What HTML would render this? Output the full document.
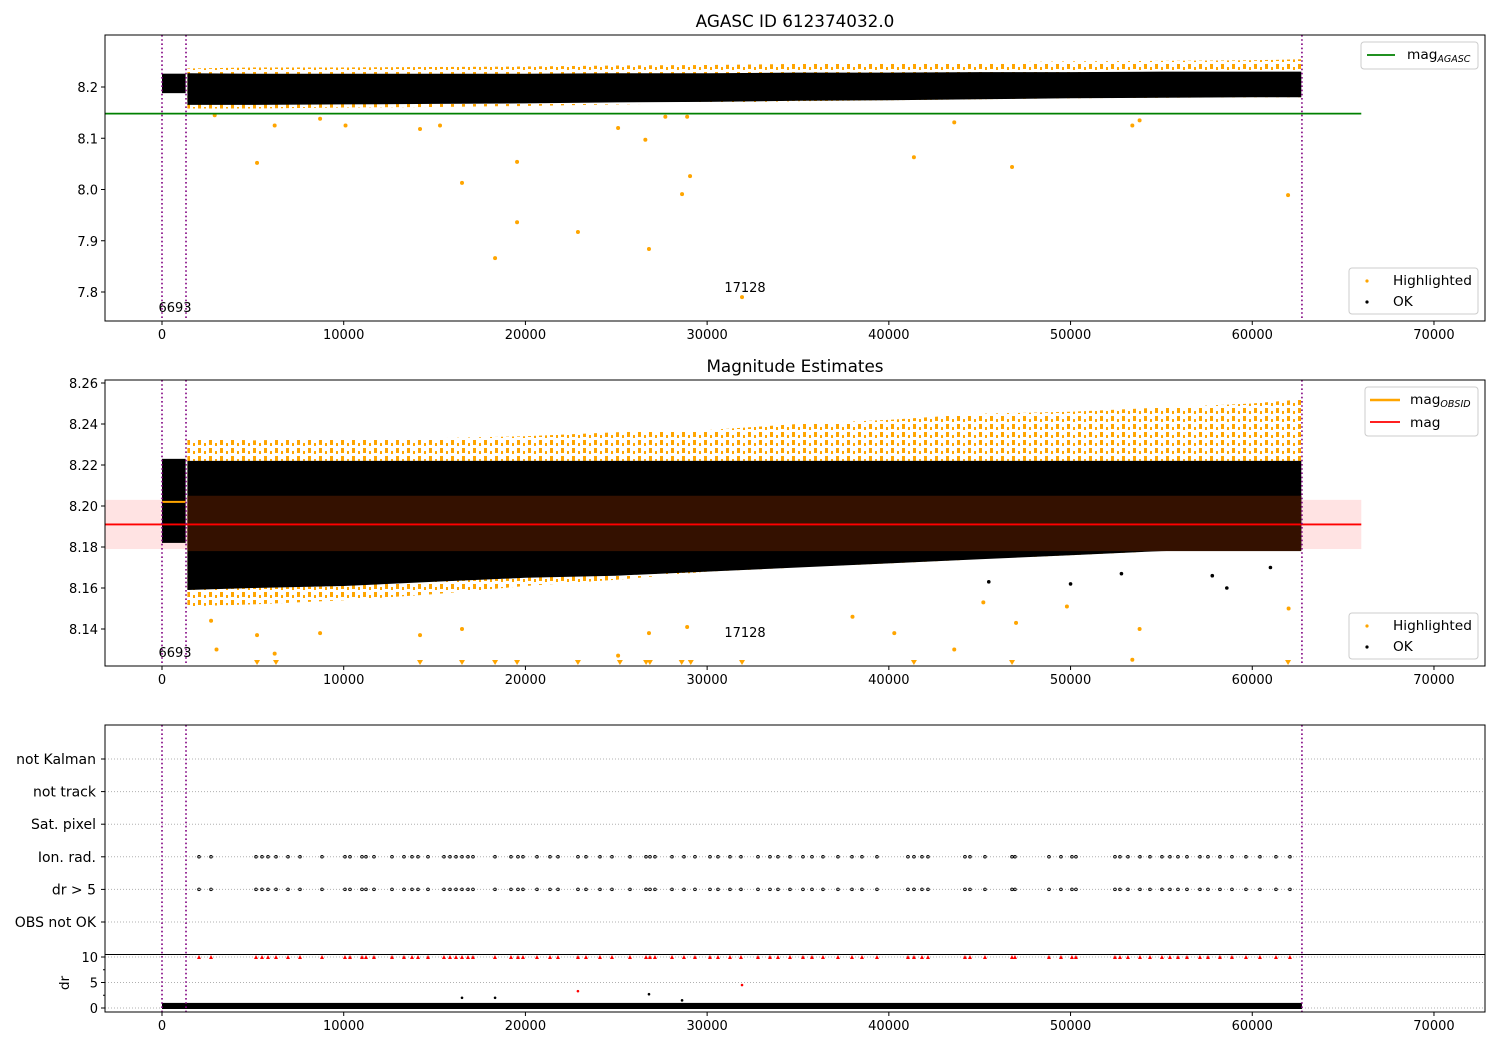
<!DOCTYPE html>
<html><head><meta charset="utf-8">
<style>
body{margin:0;background:#fff;font-family:"Liberation Sans","DejaVu Sans",sans-serif;}
svg text{font-family:"DejaVu Sans","Liberation Sans",sans-serif;fill:#000;}
</style></head>
<body>
<svg id="chart" width="1500" height="1050" xmlns="http://www.w3.org/2000/svg">
<defs>
<pattern id="orangeStreaks" width="11" height="8" patternUnits="userSpaceOnUse">
<rect x="0" y="0" width="3" height="5" fill="orange"/>
<rect x="6" y="3" width="2" height="3" fill="orange"/>
</pattern>
</defs>
<g id="g"></g>
</svg>
<script>
// ---- data ----
const binTimes   = [1400, 5000, 10000, 15000, 20000, 25000, 30000, 35000, 40000, 45000, 50000, 55000, 60000, 62700];
const p1OkHi     = [8.227, 8.226, 8.226, 8.226, 8.226, 8.227, 8.227, 8.228, 8.228, 8.229, 8.229, 8.230, 8.230, 8.230];
const p1OkLo     = [8.165, 8.165, 8.166, 8.167, 8.168, 8.170, 8.171, 8.173, 8.174, 8.176, 8.178, 8.179, 8.180, 8.180];
const p1HlHi     = [8.236, 8.238, 8.238, 8.239, 8.240, 8.242, 8.243, 8.245, 8.246, 8.248, 8.250, 8.251, 8.252, 8.254];
const p1HlLo     = [8.158, 8.158, 8.160, 8.161, 8.163, 8.166, 8.169, 8.172, 8.174, 8.176, 8.178, 8.179, 8.180, 8.180];
const initSeg    = {t0: 0, t1: 1300, p1Hi: 8.226, p1Lo: 8.188, p2Hi: 8.223, p2Lo: 8.182};
const p2OkHi     = [8.222, 8.222, 8.222, 8.222, 8.222, 8.222, 8.222, 8.222, 8.222, 8.222, 8.222, 8.222, 8.222, 8.222];
const p2OkLo     = [8.159, 8.160, 8.161, 8.163, 8.165, 8.166, 8.168, 8.170, 8.172, 8.174, 8.176, 8.178, 8.179, 8.180];
const p2HlHi     = [8.233, 8.232, 8.233, 8.233, 8.234, 8.236, 8.237, 8.240, 8.242, 8.245, 8.246, 8.248, 8.250, 8.252];
const p2HlLo     = [8.151, 8.152, 8.154, 8.157, 8.161, 8.164, 8.168, 8.170, 8.172, 8.174, 8.176, 8.178, 8.179, 8.180];
const p2CoreHi = 8.205, p2CoreLo = 8.178;
const outT  = [5230, 16510, 19540, 19540, 18330, 22890, 26800, 29060, 28620, 41380, 46780, 61970, 31920, 2900, 6200, 10100, 14200, 15300, 25100, 26600, 27700, 43600, 53400, 53800, 8700, 28900];
const outM  = [8.052, 8.013, 8.054, 7.936, 7.866, 7.917, 7.884, 8.026, 7.991, 8.063, 8.044, 7.989, 7.790, 8.145, 8.125, 8.125, 8.118, 8.125, 8.120, 8.097, 8.142, 8.131, 8.125, 8.135, 8.138, 8.142];
const p2HlOutT = [5230, 6200, 8700, 14200, 16510, 25100, 26800, 28900, 38000, 40300, 43600, 45200, 47000, 49800, 53400, 53800, 62000, 2700, 3000];
const p2HlOutM = [8.137, 8.128, 8.138, 8.137, 8.140, 8.127, 8.138, 8.141, 8.146, 8.138, 8.130, 8.153, 8.143, 8.151, 8.125, 8.140, 8.150, 8.144, 8.130];
const p2OkOutT = [50000, 52800, 58600, 61000, 57800, 45500];
const p2OkOutM = [8.162, 8.167, 8.160, 8.170, 8.166, 8.163];
const p2TriT = [5230, 6273, 14200, 16510, 18330, 19540, 22890, 25200, 26640, 26850, 28600, 29100, 31920, 41380, 46780, 61970];
const flagT = [2036, 2697, 5173, 5503, 5833, 6273, 6934, 7594, 8805, 10070, 10346, 11006, 11226, 11666, 12657, 13317, 13758, 14088, 14638, 15518, 15849, 16179, 16509, 16839, 17114, 18325, 19205, 19590, 19865, 20636, 21352, 21792, 22892, 23333, 24103, 24763, 25754, 26635, 26855, 27130, 28066, 28726, 29331, 30157, 30597, 31257, 31862, 32798, 33458, 33898, 34559, 35274, 35770, 36375, 37200, 37971, 38521, 39346, 41052, 41383, 41823, 42153, 44189, 44465, 45290, 46776, 46941, 48812, 49472, 50077, 50297, 52444, 52719, 53159, 53820, 54370, 55030, 55470, 55911, 56406, 57121, 57562, 58222, 58882, 59653, 60423, 61304, 62074];
const drOutT = [16510, 18330, 26800, 28620];
const drOutV = [2.0, 2.0, 2.7, 1.5];
const drRedT = [22890, 31920];
const drRedV = [3.3, 4.5];
const flagLabels = ["not Kalman", "not track", "Sat. pixel", "Ion. rad.", "dr > 5", "OBS not OK"];
const xTicks = [0, 10000, 20000, 30000, 40000, 50000, 60000, 70000];
const p1Ticks = [7.8, 7.9, 8.0, 8.1, 8.2];
const p2Ticks = [8.14, 8.16, 8.18, 8.20, 8.22, 8.24, 8.26];
const drTicks = [0, 5, 10];
const vLines = [0, 1321, 62734];
const magAgasc = 8.148, magMean = 8.191, magLo = 8.179, magHi = 8.203, magObsid = 8.202;
const lineEnd = 66000;

// ---- axes ----
const X0 = 105, X1 = 1485;
const xv = v => 162 + v * 0.018171;
const y1 = m => 87 + (8.2 - m) * 512.5;
const y2 = m => 383 + (8.26 - m) * 2050;
const yFlag = i => 759 + i * 32.6;
const yDr = d => 1008 - d * 5.1;

const NS = "http://www.w3.org/2000/svg";
const G = document.getElementById('g');
function el(tag, attrs, parent) {
  const e = document.createElementNS(NS, tag);
  for (const k in attrs) e.setAttribute(k, attrs[k]);
  (parent || G).appendChild(e);
  return e;
}
function txt(s, x, y, anchor, parent, size) {
  const t = el('text', {x: x, y: y, 'text-anchor': anchor || 'middle'}, parent);
  t.style.fontSize = (size || 13) + 'px';
  t.textContent = s;
  return t;
}
function subTxt(base, sub, x, y, parent) {
  const t = el('text', {x: x, y: y, 'text-anchor': 'start'}, parent);
  t.style.fontSize = '13.7px';
  t.appendChild(document.createTextNode(base));
  const ts = el('tspan', {dy: 3}, t);
  ts.style.fontSize = '9.5px';
  ts.style.fontStyle = 'italic';
  ts.textContent = sub;
  return t;
}
function bandPoly(ts, hi, lo, yf) {
  let pts = [];
  for (let i = 0; i < ts.length; i++) pts.push(xv(ts[i]).toFixed(1) + ',' + yf(hi[i]).toFixed(1));
  for (let i = ts.length - 1; i >= 0; i--) pts.push(xv(ts[i]).toFixed(1) + ',' + yf(lo[i]).toFixed(1));
  return pts.join(' ');
}
function clip(id, x, y, w, h) {
  const c = el('clipPath', {id: id});
  el('rect', {x: x, y: y, width: w, height: h}, c);
}
clip('c1', X0, 35, X1 - X0, 286);
clip('c2', X0, 380, X1 - X0, 286);
clip('c3', X0, 725, X1 - X0, 287);

function xAxis(yb, name) {
  const g = el('g', {});
  
  
  xTicks.forEach(t => {
    el('line', {x1: xv(t), x2: xv(t), y1: yb, y2: yb + 4, stroke: '#000'}, g);
    txt(String(t), xv(t), yb + 18, 'middle', g);
  });
}
function vlinesDraw(ya, yb, name) {
  vLines.forEach(t => {
    const l = el('line', {x1: xv(t), x2: xv(t), y1: ya, y2: yb, stroke: 'purple', 'stroke-width': 1.6, 'stroke-dasharray': '1.6,2.6'});
    
    
  });
}

// ===== Panel 1 =====
txt('AGASC ID 612374032.0', 795, 27, 'middle', null, 16.8);
const p1 = el('g', {'clip-path': 'url(#c1)'});


let e;
e = el('polygon', {points: bandPoly(binTimes, p1HlHi, p1HlLo, y1), fill: 'url(#orangeStreaks)'}, p1);
 
e = el('polygon', {points: bandPoly(binTimes, p1OkHi, p1OkLo, y1), fill: '#000'}, p1);
 
e = el('rect', {x: xv(initSeg.t0), y: y1(initSeg.p1Hi), width: xv(initSeg.t1) - xv(initSeg.t0), height: y1(initSeg.p1Lo) - y1(initSeg.p1Hi), fill: '#000'}, p1);
 
outT.forEach((t, i) => {
  const c = el('circle', {cx: xv(t), cy: y1(outM[i]), r: 2, fill: 'orange'}, p1);
   
});
e = el('line', {x1: X0, x2: xv(lineEnd), y1: y1(magAgasc), y2: y1(magAgasc), stroke: 'green', 'stroke-width': 1.8}, p1);
 
vlinesDraw(35, 321, 'obs-boundary-p1');
txt('6693', 175, 312, 'middle');
txt('17128', 745, 292, 'middle');
e = el('rect', {x: X0, y: 35, width: X1 - X0, height: 286, fill: 'none', stroke: '#000'});
 
p1Ticks.forEach(t => {
  el('line', {x1: X0 - 4, x2: X0, y1: y1(t), y2: y1(t), stroke: '#000'});
  txt(t.toFixed(1), X0 - 7, y1(t) + 5, 'end');
});
xAxis(321, 'x-axis-p1');
// legends p1
let lg = el('g', {});  
el('rect', {x: 1361, y: 42, width: 117, height: 27, rx: 3, fill: '#fff', 'fill-opacity': 0.8, stroke: '#ccc'}, lg);
el('line', {x1: 1367, x2: 1395, y1: 55, y2: 55, stroke: 'green', 'stroke-width': 1.8}, lg);
subTxt('mag', 'AGASC', 1407, 59, lg);
lg = el('g', {});  
el('rect', {x: 1349, y: 268, width: 129, height: 46, rx: 3, fill: '#fff', 'fill-opacity': 0.8, stroke: '#ccc'}, lg);
el('circle', {cx: 1367, cy: 281, r: 1.6, fill: 'orange'}, lg);
txt('Highlighted', 1393, 285, 'start', lg, 13.7);
el('circle', {cx: 1367, cy: 302, r: 1.6, fill: '#000'}, lg);
txt('OK', 1393, 306, 'start', lg, 13.7);

// ===== Panel 2 =====
txt('Magnitude Estimates', 795, 372, 'middle', null, 16.8);
const p2 = el('g', {'clip-path': 'url(#c2)'});


e = el('rect', {x: X0, y: y2(magHi), width: xv(lineEnd) - X0, height: y2(magLo) - y2(magHi), fill: 'red', 'fill-opacity': 0.11}, p2);
 
e = el('polygon', {points: bandPoly(binTimes, p2HlHi, p2HlLo, y2), fill: 'url(#orangeStreaks)'}, p2);
 
e = el('polygon', {points: bandPoly(binTimes, p2OkHi, p2OkLo, y2), fill: '#000'}, p2);
 
e = el('rect', {x: xv(initSeg.t0), y: y2(initSeg.p2Hi), width: xv(initSeg.t1) - xv(initSeg.t0), height: y2(initSeg.p2Lo) - y2(initSeg.p2Hi), fill: '#000'}, p2);
 
e = el('rect', {x: xv(binTimes[0]), y: y2(p2CoreHi), width: xv(binTimes[binTimes.length-1]) - xv(binTimes[0]), height: y2(p2CoreLo) - y2(p2CoreHi), fill: '#341100'}, p2);
 
p2HlOutT.forEach((t, i) => {
  const c = el('circle', {cx: xv(t), cy: y2(p2HlOutM[i]), r: 2, fill: 'orange'}, p2);
   
});
p2OkOutT.forEach((t, i) => {
  const c = el('circle', {cx: xv(t), cy: y2(p2OkOutM[i]), r: 1.8, fill: '#000'}, p2);
   
});
p2TriT.forEach(t => {
  const x = xv(t), y = 663;
  const p = el('polygon', {points: (x-3)+','+(y-3)+' '+(x+3)+','+(y-3)+' '+x+','+(y+2), fill: 'orange'}, p2);
   
});
e = el('line', {x1: xv(initSeg.t0), x2: xv(initSeg.t1), y1: y2(magObsid), y2: y2(magObsid), stroke: 'orange', 'stroke-width': 2}, p2);
 
e = el('line', {x1: X0, x2: xv(lineEnd), y1: y2(magMean), y2: y2(magMean), stroke: 'red', 'stroke-width': 1.8}, p2);
 
vlinesDraw(380, 666, 'obs-boundary-p2');
txt('6693', 175, 657, 'middle');
txt('17128', 745, 637, 'middle');
e = el('rect', {x: X0, y: 380, width: X1 - X0, height: 286, fill: 'none', stroke: '#000'});
 
p2Ticks.forEach(t => {
  el('line', {x1: X0 - 4, x2: X0, y1: y2(t), y2: y2(t), stroke: '#000'});
  txt(t.toFixed(2), X0 - 7, y2(t) + 5, 'end');
});
xAxis(666, 'x-axis-p2');
lg = el('g', {});  
el('rect', {x: 1365, y: 387, width: 113, height: 49, rx: 3, fill: '#fff', 'fill-opacity': 0.8, stroke: '#ccc'}, lg);
el('line', {x1: 1370, x2: 1400, y1: 400, y2: 400, stroke: 'orange', 'stroke-width': 2.5}, lg);
subTxt('mag', 'OBSID', 1410, 404, lg);
el('line', {x1: 1370, x2: 1400, y1: 422, y2: 422, stroke: 'red', 'stroke-width': 1.8}, lg);
txt('mag', 1410, 427, 'start', lg, 13.7);
lg = el('g', {});  
el('rect', {x: 1349, y: 613, width: 129, height: 46, rx: 3, fill: '#fff', 'fill-opacity': 0.8, stroke: '#ccc'}, lg);
el('circle', {cx: 1367, cy: 626, r: 1.6, fill: 'orange'}, lg);
txt('Highlighted', 1393, 630, 'start', lg, 13.7);
el('circle', {cx: 1367, cy: 647, r: 1.6, fill: '#000'}, lg);
txt('OK', 1393, 651, 'start', lg, 13.7);

// ===== Panel 3 =====
const p3 = el('g', {'clip-path': 'url(#c3)'});


flagLabels.forEach((s, i) => {
  el('line', {x1: X0, x2: X1, y1: yFlag(i), y2: yFlag(i), stroke: '#b0b0b0', 'stroke-dasharray': '1,2'}, p3);
  el('line', {x1: X0 - 4, x2: X0, y1: yFlag(i), y2: yFlag(i), stroke: '#000'});
  const t = txt(s, X0 - 9, yFlag(i) + 5, 'end', null, 14);
  
});
drTicks.forEach(d => {
  el('line', {x1: X0, x2: X1, y1: yDr(d), y2: yDr(d), stroke: '#b0b0b0', 'stroke-dasharray': '1,2'}, p3);
  el('line', {x1: X0 - 4, x2: X0, y1: yDr(d), y2: yDr(d), stroke: '#000'});
  txt(String(d), X0 - 7, yDr(d) + 5, 'end');
});
[2.5, 7.5].forEach(d => el('line', {x1: X0 - 2, x2: X0, y1: yDr(d), y2: yDr(d), stroke: '#000'}));
flagT.forEach(t => {
  [3, 4].forEach(r => {
    const c = el('circle', {cx: xv(t), cy: yFlag(r), r: 1.3, fill: 'none', stroke: '#000', 'stroke-width': 0.9}, p3);
    
    
  });
  const x = xv(t), y = yDr(10);
  const p = el('polygon', {points: (x-2)+','+(y+2)+' '+(x+2)+','+(y+2)+' '+x+','+(y-2), fill: 'red'}, p3);
  
  
});
e = el('rect', {x: xv(0), y: yDr(1), width: xv(62734) - xv(0), height: yDr(0) - yDr(1) + 1, fill: '#000'}, p3);
 
drOutT.forEach((t, i) => {
  const c = el('circle', {cx: xv(t), cy: yDr(drOutV[i]), r: 1.3, fill: '#000'}, p3);
   
});
drRedT.forEach((t, i) => {
  const c = el('circle', {cx: xv(t), cy: yDr(drRedV[i]), r: 1.3, fill: 'red'}, p3);
   
});
vlinesDraw(725, 1012, 'obs-boundary-p3');
e = el('rect', {x: X0, y: 725, width: X1 - X0, height: 287, fill: 'none', stroke: '#000'});
 
el('line', {x1: X0, x2: X1, y1: 954.5, y2: 954.5, stroke: '#000'});
const dl = el('text', {x: 0, y: 0, 'text-anchor': 'middle', transform: 'translate(69,983) rotate(-90)'});
dl.style.fontSize = '13.7px';
dl.textContent = 'dr';

xAxis(1012, 'x-axis-p3');
</script>
</body></html>
